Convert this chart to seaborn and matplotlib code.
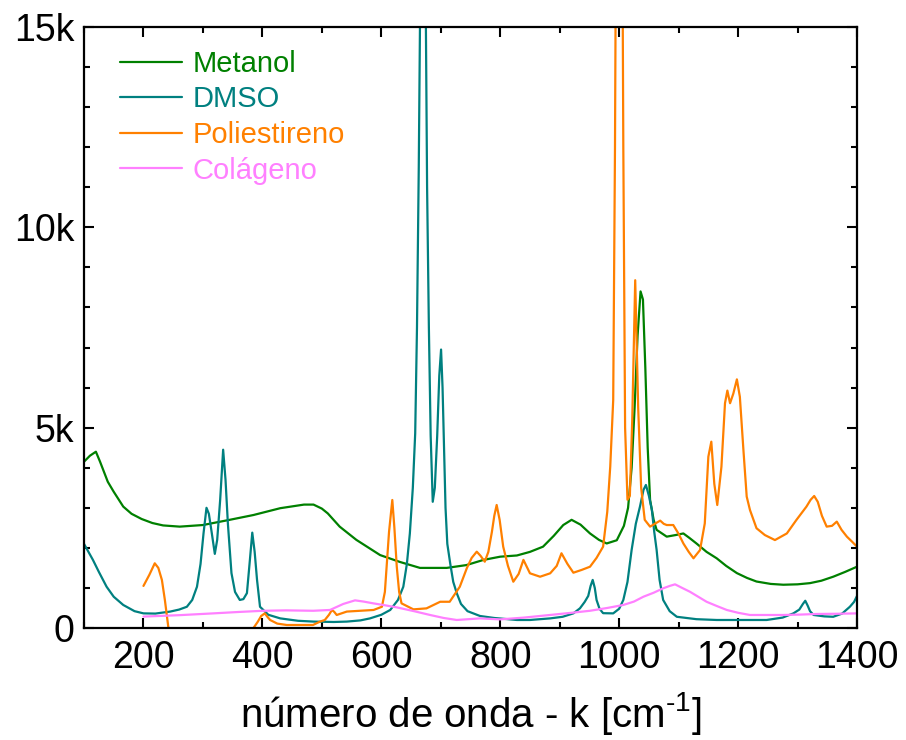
import matplotlib
matplotlib.use("Agg")
import matplotlib.pyplot as plt
from matplotlib.ticker import MultipleLocator, FuncFormatter
import seaborn as sns
import pandas as pd

# ---------------- data ----------------
series_names = ["Metanol", "DMSO", "Poliestireno", "Colágeno"]
series_colors = ["#008000", "#008080", "#FF8000", "#FF80FF"]

metanol_x = [100, 110, 120, 127, 140, 150, 166, 180, 197, 215, 233, 261, 300, 345, 385,
             430, 470, 486, 500, 510, 530, 558, 598, 631, 665, 710, 743, 772, 800, 828,
             850, 872, 890, 906, 920, 935, 951, 966, 979, 996, 1008, 1015, 1021, 1026,
             1031, 1036, 1040, 1044, 1048, 1052, 1058, 1063, 1080, 1095, 1108, 1118,
             1130, 1147, 1164, 1180, 1198, 1215, 1231, 1255, 1276, 1300, 1321, 1340,
             1360, 1380, 1400]
metanol_y = [4150, 4300, 4400, 4150, 3650, 3400, 3030, 2850, 2720, 2620, 2560, 2530, 2570,
             2700, 2820, 2990, 3080, 3080, 2980, 2860, 2530, 2200, 1820, 1650, 1500, 1500,
             1570, 1700, 1780, 1810, 1900, 2030, 2300, 2570, 2700, 2580, 2360, 2200, 2110,
             2190, 2550, 3000, 4000, 5500, 7300, 8400, 8200, 6500, 4500, 3200, 2700, 2450,
             2280, 2320, 2360, 2250, 2110, 1900, 1740, 1550, 1370, 1250, 1160, 1100, 1080,
             1090, 1120, 1180, 1280, 1400, 1530]

dmso_x = [100, 115, 125, 138, 150, 166, 185, 200, 220, 245, 260, 273, 282, 290, 296, 301,
          306, 310, 315, 320, 324, 329, 334, 338, 342, 348, 354, 362, 368, 374, 379, 383,
          387, 391, 396, 410, 430, 460, 486, 520, 542, 565, 581, 600, 615, 628, 637, 643,
          648, 653, 657, 660, 663, 665, 670, 675, 677, 680, 683, 686.5, 690, 694, 697.5,
          700.5, 703, 705.5, 708, 711, 716, 721, 727, 734, 745, 766, 790, 828, 850, 884,
          905, 923, 934, 942, 948, 952, 955.5, 959, 962, 967, 973, 990, 1000, 1007, 1014,
          1021, 1028, 1035, 1041, 1045, 1050, 1055, 1059, 1063, 1068, 1074, 1085, 1097,
          1130, 1164, 1200, 1248, 1275, 1293, 1303, 1309, 1313, 1317, 1321, 1327, 1345,
          1360, 1375, 1388, 1395, 1400]
dmso_y = [2100, 1700, 1400, 1030, 780, 575, 420, 365, 360, 410, 460, 530, 700, 1030, 1600,
          2360, 3000, 2850, 2360, 1850, 2200, 3200, 4450, 3700, 2600, 1370, 900, 700, 720,
          870, 1700, 2380, 1900, 1200, 530, 330, 240, 180, 160, 150, 160, 190, 240, 330,
          450, 700, 1030, 1600, 2360, 3500, 4860, 7500, 11500, 15000, 19000, 15000, 11000,
          7500, 4800, 3150, 3500, 4800, 6300, 6950, 6000, 4500, 3000, 2100, 1600, 1150, 865,
          600, 420, 300, 250, 200, 200, 240, 280, 365, 490, 650, 800, 1050, 1200, 1000, 700,
          480, 370, 365, 480, 700, 1150, 1950, 2600, 3030, 3450, 3570, 3300, 2950, 2400,
          1950, 1200, 700, 420, 280, 220, 200, 200, 200, 260, 365, 460, 600, 680, 560, 420,
          325, 290, 280, 360, 530, 650, 800]

poli_x = [200, 210, 219, 225, 231, 236, 242, 250, 300, 360, 380, 385, 392, 398, 404, 409,
          413, 425, 441, 485, 497, 505, 512, 517, 521, 525, 542, 565, 587, 601, 606, 609,
          613, 618.5, 622, 626, 630, 634, 654, 676, 699, 715, 732, 744, 752, 760.5, 767,
          774, 780, 786, 790, 794, 799, 805, 813, 822, 831, 839, 844, 850, 867, 884, 895,
          903, 913, 923, 937, 951, 962, 973, 980, 985, 990, 993, 996, 1000, 1004, 1007,
          1010, 1014, 1018, 1022, 1027, 1032, 1037, 1043, 1052, 1060, 1069, 1075, 1080,
          1091, 1100, 1108, 1117, 1125, 1136, 1144, 1150, 1155, 1160, 1165, 1172, 1178,
          1182, 1186.5, 1192, 1198, 1203, 1209, 1214.5, 1220, 1231, 1245, 1262, 1282, 1298,
          1315, 1322, 1328, 1334, 1341, 1349, 1358, 1366, 1374, 1383, 1392, 1400]
poli_y = [1050, 1330, 1615, 1500, 1200, 700, 0, -1200, -3000, -2000, -600, 0, 150, 300,
          365, 270, 200, 110, 75, 75, 160, 200, 330, 450, 400, 325, 410, 430, 450, 530, 900,
          1530, 2400, 3195, 2500, 1530, 900, 615, 465, 490, 655, 655, 1030, 1500, 1750,
          1905, 1800, 1655, 1900, 2400, 2800, 3070, 2700, 2030, 1550, 1155, 1350, 1700,
          1550, 1365, 1280, 1365, 1550, 1865, 1600, 1380, 1450, 1530, 1750, 2030, 2900,
          4025, 5690, 12000, 22000, 30000, 22000, 12000, 5000, 3200, 3300, 5200, 8680, 5500,
          3500, 2700, 2530, 2600, 2680, 2600, 2570, 2570, 2350, 2110, 1900, 1740, 1945,
          2610, 4275, 4650, 3600, 3070, 4025, 5610, 5925, 5610, 5850, 6205, 5770, 4440,
          3280, 2945, 2490, 2320, 2195, 2360, 2695, 3030, 3200, 3295, 3150, 2800, 2530,
          2550, 2655, 2450, 2280, 2150, 2030]

col_x = [200, 260, 317.5, 360, 401.5, 440, 485.6, 513.7, 536, 555.8, 570, 586.6, 605, 626,
         655, 682, 705, 726.8, 766, 799.6, 840, 883.7, 920, 951, 980, 1007, 1025, 1040.7,
         1058, 1074, 1085, 1094, 1106, 1119, 1133, 1147, 1164, 1181, 1200, 1220, 1250,
         1276, 1305, 1332, 1365, 1400]
col_y = [285, 320, 365, 400, 430, 440, 430, 450, 600, 690, 660, 615, 570, 515, 420, 325,
         250, 200, 240, 215, 260, 325, 380, 430, 500, 575, 660, 780, 880, 990, 1050, 1090,
         1000, 905, 780, 655, 550, 450, 380, 325, 325, 325, 335, 350, 355, 365]

xlim = (100, 1400)
ylim = (0, 15000)
x_major, x_minor = 200, 100
y_major, y_minor = 5000, 1000
xlabel = "número de onda - k [cm$^{\\text{-1}}$]"

# ---------------- figure ----------------
sns.set_style("ticks")
plt.rcParams["font.family"] = ["Liberation Sans", "DejaVu Sans"]
plt.rcParams["mathtext.fontset"] = "custom"
plt.rcParams["mathtext.rm"] = "Liberation Sans"
plt.rcParams["mathtext.it"] = "Liberation Sans"
plt.rcParams["text.color"] = "black"
plt.rcParams["axes.labelcolor"] = "black"
plt.rcParams["xtick.color"] = "black"
plt.rcParams["ytick.color"] = "black"

frames = []
for name, xs, ys in zip(series_names,
                        [metanol_x, dmso_x, poli_x, col_x],
                        [metanol_y, dmso_y, poli_y, col_y]):
    frames.append(pd.DataFrame({"k": xs, "I": ys, "amostra": name}))
df = pd.concat(frames, ignore_index=True)

fig = plt.figure(figsize=(9.06, 7.40), dpi=100)
ax = fig.add_axes([84 / 906, 112 / 740, 773 / 906, 601 / 740])

sns.lineplot(data=df, x="k", y="I", hue="amostra", hue_order=series_names,
             palette=dict(zip(series_names, series_colors)), estimator=None,
             sort=False, linewidth=1.6, ax=ax)

ax.set_xlim(*xlim)
ax.set_ylim(*ylim)
ax.xaxis.set_major_locator(MultipleLocator(x_major))
ax.xaxis.set_minor_locator(MultipleLocator(x_minor))
ax.yaxis.set_major_locator(MultipleLocator(y_major))
ax.yaxis.set_minor_locator(MultipleLocator(y_minor))
ax.yaxis.set_major_formatter(FuncFormatter(lambda v, p: "0" if v == 0 else f"{int(v/1000)}k"))

for s in ax.spines.values():
    s.set_visible(True)
    s.set_linewidth(1.6)
    s.set_color("black")
ax.tick_params(which="both", direction="in", top=True, right=True, width=1.5,
               color="black", labelcolor="black")
ax.tick_params(which="major", length=7)
ax.tick_params(which="minor", length=4.5)
ax.tick_params(axis="x", which="major", pad=9)
ax.tick_params(axis="y", which="major", pad=7)
for lab in ax.get_xticklabels() + ax.get_yticklabels():
    lab.set_fontsize(27)

ax.set_xlabel(xlabel, fontsize=29, labelpad=10, color="black")
ax.set_ylabel("")

leg = ax.legend(loc="upper left", bbox_to_anchor=(0.046, 0.962), frameon=False,
                fontsize=21, handlelength=2.15, handletextpad=0.35, labelspacing=0.26,
                borderaxespad=0, borderpad=0)
for txt, c in zip(leg.get_texts(), series_colors):
    txt.set_color(c)
for ln in leg.get_lines():
    ln.set_linewidth(1.6)

fig.savefig("out.png", dpi=100)
